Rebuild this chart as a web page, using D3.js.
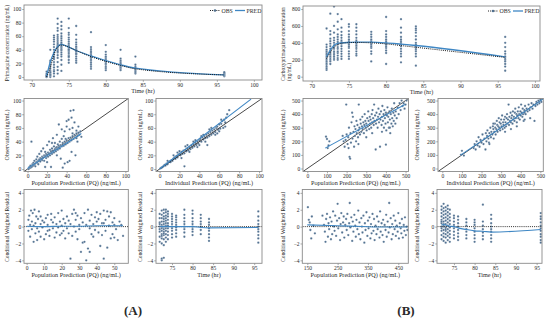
<!DOCTYPE html>
<html><head><meta charset="utf-8">
<script src="https://cdn.jsdelivr.net/npm/d3@7"></script>
<style>
body{margin:0;background:#fff}
svg{display:block}
text{font-family:"Liberation Serif","DejaVu Serif",serif;fill:#2a2a2a}
</style>
</head><body>
<svg id="c" width="550" height="320" font-family="Liberation Serif, serif"></svg>
<script>
// ---------------- DATA ----------------
const sampleTimes = [72, 72.5, 73, 73.5, 74, 75, 76, 78, 80, 82, 84, 96];

// (A) primaquine: observed concentrations per sampling time
const pqObsByTime = [
  [0, 1, 2, 3, 5, 8, 0.5, 1.5],
  [0, 2, 4, 6, 9, 12, 15, 18, 22, 24, 40, 3, 7],
  [1, 5, 10, 14, 18, 22, 26, 30, 33, 36, 40, 44, 48, 52, 55, 58, 61, 8, 28],
  [5, 10, 15, 22, 28, 32, 36, 40, 43, 46, 48, 50, 53, 56, 59, 62, 68, 72, 78, 86, 38, 45],
  [9, 18, 25, 30, 33, 36, 39, 41, 43, 45, 47, 49, 51, 54, 57, 60, 64, 70, 75, 81],
  [21, 25, 29, 32, 35, 37, 39, 41, 43, 45, 47, 49, 52, 55, 58, 62, 65, 72, 86, 30, 40],
  [21, 24, 27, 30, 33, 35, 37, 39, 41, 43, 45, 48, 51, 55, 62, 75, 34, 38],
  [12, 15, 18, 21, 24, 26, 28, 30, 32, 34, 36, 38, 41, 44, 66, 29],
  [10, 13, 15, 18, 20, 22, 24, 26, 28, 30, 33, 37, 47, 23],
  [10, 12, 14, 15, 17, 18, 20, 22, 24, 27, 40],
  [5, 7, 9, 11, 13, 15, 18, 30],
  [1, 2, 3, 4, 5, 6, 7]
];
const pqObsLine = [0, 14, 33, 44, 47, 44, 39, 30, 23, 17, 12, 3];
const pqPredLine = [1, 22, 36, 45, 48, 44, 39, 31, 24, 18, 13, 3];

// (B) carboxyprimaquine: observed concentrations per sampling time
const cpqObsByTime = [
  [80, 100, 120, 140, 160, 180, 200, 220, 240, 260, 280, 300, 320, 350, 380, 570],
  [150, 180, 200, 220, 240, 260, 280, 300, 330, 360, 390, 420, 450, 500, 540, 745],
  [200, 220, 240, 260, 280, 300, 330, 350, 370, 400, 430, 460, 520, 600, 830],
  [200, 220, 250, 280, 300, 330, 350, 380, 410, 440, 470, 500, 560, 650, 740],
  [210, 240, 270, 300, 330, 360, 390, 410, 430, 460, 490, 530, 580, 680],
  [210, 240, 270, 300, 340, 360, 380, 400, 420, 440, 470, 500, 540, 590, 620],
  [250, 270, 300, 330, 350, 370, 390, 410, 430, 460, 500, 540, 580, 620],
  [180, 270, 300, 340, 360, 380, 400, 420, 440, 470, 500, 530],
  [150, 280, 310, 340, 360, 380, 400, 420, 440, 470, 500, 540, 706],
  [170, 240, 270, 300, 330, 360, 380, 400, 420, 440, 470, 520, 580, 680],
  [130, 240, 270, 300, 320, 340, 360, 380, 400, 440, 480, 520, 550, 570, 596],
  [70, 120, 150, 180, 200, 220, 240, 270, 300, 350, 400, 470]
];
const cpqObsLine = [215, 290, 350, 380, 395, 402, 405, 400, 388, 368, 348, 228];
const cpqPredLine = [235, 314, 373, 393, 400, 405, 408, 408, 400, 385, 369, 235];

// (A) observation vs population prediction
const pqPredVsObs = [[1,0],[2,1],[2,3],[3,2],[3,5],[4,3],[4,40],[5,4],[5,7],[6,5],[6,9],[7,6],[7,12],[8,8],[8,4],[9,10],[9,14],[10,9],[10,18],[11,12],[11,7],[12,14],[12,22],[13,11],[13,16],[14,15],[14,26],[15,13],[15,18],[16,17],[16,30],[17,12],[17,20],[18,19],[18,25],[19,16],[19,22],[20,21],[20,35],[21,18],[21,24],[22,23],[22,40],[23,20],[23,28],[24,26],[24,3],[25,22],[25,30],[26,27],[26,45],[27,24],[27,33],[28,29],[28,38],[29,26],[29,31],[30,32],[30,50],[31,28],[31,36],[32,34],[32,65],[33,30],[33,40],[34,35],[34,15],[35,33],[35,44],[36,38],[36,2],[37,34],[37,48],[38,40],[38,55],[39,36],[39,44],[40,42],[40,62],[41,38],[41,10],[42,45],[42,72],[43,40],[43,58],[44,46],[44,85],[45,42],[45,75],[46,48],[46,60],[47,44],[47,86],[48,50],[48,68],[49,46],[49,20],[50,52],[50,56],[51,48],[51,40],[52,53],[52,62],[53,50],[54,55],[55,47],[43,12],[45,25],[38,8],[30,20],[25,38],[20,10],[18,3],[35,58],[40,70],[46,52],[50,45]];
const pqPredFit = [[0,1],[55,52]];

// (A) observation vs individual prediction
const pqIpredVsObs = [[1,1],[2,2],[3,3],[4,4],[5,6],[6,5],[7,8],[8,7],[9,10],[10,11],[11,10],[12,13],[13,12],[14,15],[15,17],[16,15],[17,19],[18,17],[19,21],[20,22],[21,20],[22,25],[23,22],[24,27],[25,23],[25,4],[26,28],[27,26],[28,30],[29,27],[30,32],[31,29],[32,34],[33,31],[34,36],[35,33],[36,38],[37,35],[38,40],[39,37],[40,42],[41,44],[42,40],[43,46],[44,43],[45,48],[46,45],[47,50],[48,46],[48,35],[49,52],[50,48],[51,54],[52,50],[53,56],[54,52],[55,58],[56,54],[57,60],[58,62],[59,57],[60,65],[61,59],[62,66],[63,70],[64,60],[65,72],[66,68],[67,75],[68,80],[70,86],[8,12],[14,20],[20,26],[26,33],[30,25],[36,42],[40,35],[44,50],[52,60],[56,50],[60,55],[46,40],[38,32],[18,24],[22,16],[28,35],[34,40],[42,48],[50,58],[58,52],[62,72],[66,62]];
const pqIpredFit = [[0,0],[92,102]];

// (B) observation vs population prediction
const cpqPredVsObs = [[95,234],[100,217],[104,150],[108,170],[112,200],[180,240],[185,200],[190,160],[195,210],[198,470],[200,250],[205,180],[208,230],[210,150],[212,300],[215,85],[218,72],[220,260],[222,190],[225,340],[228,410],[230,220],[232,380],[235,270],[238,160],[240,310],[242,240],[245,290],[248,200],[250,350],[252,260],[255,320],[258,230],[260,280],[262,470],[265,300],[268,250],[270,360],[272,330],[275,270],[278,310],[280,380],[282,290],[285,340],[288,260],[290,320],[292,400],[295,350],[298,300],[300,330],[302,280],[305,370],[308,310],[310,420],[312,350],[315,290],[318,380],[320,330],[322,360],[325,300],[328,400],[330,340],[332,430],[335,370],[338,320],[340,470],[342,350],[345,390],[348,140],[350,330],[352,410],[355,360],[358,300],[360,380],[362,440],[365,340],[368,400],[370,160],[372,360],[375,420],[378,320],[380,380],[382,460],[385,350],[388,400],[390,300],[392,430],[395,370],[398,330],[400,410],[402,280],[405,390],[408,450],[410,340],[412,380],[415,300],[418,420],[420,360],[422,260],[425,400],[428,330],[430,440],[432,370],[435,310],[438,410],[440,350],[442,480],[445,390],[448,330],[450,420],[455,370],[460,450],[465,400],[470,480],[475,430],[480,500],[485,460],[490,480],[495,440],[500,470],[505,500],[400,175],[380,270],[330,260],[300,230],[260,180],[420,300]];
const cpqPredFit = [[91,150],[497,471]];

// (B) observation vs individual prediction
const cpqIpredVsObs = [[95,100],[100,130],[110,95],[160,150],[165,180],[170,140],[175,200],[180,170],[185,230],[190,160],[195,210],[200,190],[205,250],[210,180],[215,220],[220,140],[222,260],[225,200],[228,240],[230,280],[235,220],[238,190],[240,260],[245,300],[248,230],[250,270],[255,250],[258,310],[260,290],[262,220],[265,270],[268,330],[270,300],[272,250],[275,290],[278,350],[280,320],[282,270],[285,310],[288,370],[290,300],[292,340],[295,280],[298,330],[300,360],[302,310],[305,390],[308,290],[310,340],[312,320],[315,360],[318,300],[320,380],[322,340],[325,310],[328,370],[330,400],[332,330],[335,360],[338,470],[340,320],[342,380],[345,350],[348,410],[350,340],[352,370],[355,390],[358,330],[360,420],[362,360],[365,380],[368,350],[370,410],[372,440],[375,370],[378,400],[380,340],[382,390],[385,420],[388,370],[390,450],[392,400],[395,360],[398,420],[400,390],[402,470],[405,410],[408,380],[410,440],[412,400],[415,350],[418,430],[420,410],[422,460],[425,400],[430,440],[435,420],[440,470],[445,430],[448,370],[450,450],[455,480],[460,440],[465,470],[470,350],[475,460],[480,490],[485,470],[490,500],[495,480],[500,510],[505,490],[320,270],[350,290],[380,310],[420,360],[260,330],[240,180]];
const cpqIpredFit = [[95,100],[515,512]];

// (A) CWRES vs population prediction
const pqPredVsCwres = [[1,0.8],[1,-0.5],[1.5,1.3],[2,0.2],[2,-1.2],[2.5,1.9],[3,-0.3],[3,0.6],[3.5,1.6],[4,-1.8],[4,0.1],[4.5,2.0],[5,-0.8],[5,0.4],[5.5,1.2],[6,-0.2],[6,-1.6],[6.5,0.9],[7,1.8],[7,-0.6],[8,0.3],[8,-1.2],[9,0.7],[9,-0.1],[10,-1.5],[10,0.5],[11,1.0],[11,-0.9],[12,0.2],[12,1.4],[13,-0.4],[13,-1.1],[14,0.8],[14,1.5],[15,-0.2],[15,0.5],[16,-1.3],[16,1.1],[17,0.3],[17,-0.7],[18,1.6],[18,-0.1],[19,0.6],[19,-1.0],[20,1.9],[20,0.1],[21,-0.5],[21,0.9],[22,-1.4],[22,0.4],[23,1.2],[23,-0.2],[24,0.7],[24,-0.8],[25,-3.8],[25,0.3],[26,1.5],[26,-1.1],[27,2.0],[27,0.0],[28,-0.6],[28,0.8],[29,1.3],[29,-1.5],[30,0.2],[30,-0.3],[31,-3.0],[31,1.0],[32,-1.9],[32,0.5],[33,-1.8],[33,1.6],[34,-4.0],[34,0.2],[35,-2.6],[35,2.0],[36,-3.0],[36,0.7],[37,-0.9],[37,1.4],[38,0.3],[38,-1.2],[39,1.1],[39,-0.4],[40,0.6],[40,1.7],[41,-0.7],[41,0.9],[42,-2.3],[42,1.5],[43,0.4],[43,-1.0],[44,1.9],[44,-3.8],[45,0.8],[45,-0.5],[46,1.8],[46,-2.5],[47,1.2],[47,0.1],[48,-1.4],[48,1.7],[49,0.5],[49,-0.9],[50,1.0],[50,0.2],[51,-0.3],[52,-1.6],[53,0.6],[54,0.2],[55,-1.1],[8,1.2],[12,-0.5],[20,-0.8],[28,1.6],[36,-0.2],[44,0.4],[50,-1.3]];
const pqPredCwresFit = [[0,0.05],[10,0],[20,0.05],[30,0.05],[40,0.1],[50,0.1],[55,0.1]];

// (A) CWRES per sampling time
const pqCwresByTime = [
  [-1.8, -1.2, -0.6, 0, 0.5, 1.0, 1.5, 0.3, -0.3],
  [-4.0, -3.8, -2.0, -1.4, -0.9, -0.5, -0.2, 0.2, 0.6, 1.0, 1.4, 1.9, 0.0, -1.1],
  [-3.7, -2.2, -1.5, -1.0, -0.6, -0.3, 0, 0.3, 0.6, 0.9, 1.2, 1.6, 2.0, -0.8],
  [-1.8, -1.3, -0.9, -0.5, -0.2, 0.1, 0.4, 0.7, 1.0, 1.3, 1.7, 2.0, 0.0],
  [-1.5, -1.0, -0.6, -0.2, 0.1, 0.4, 0.8, 1.2, 1.5, 1.8],
  [-1.3, -0.9, -0.5, -0.2, 0, 0.3, 0.6, 0.9, 1.2, 1.5],
  [-1.2, -0.8, -0.4, -0.1, 0.2, 0.5, 0.8, 1.1, 1.3],
  [-1.2, -0.7, -0.3, 0, 0.3, 0.6, 1.0, 1.4, 2.0],
  [-1.0, -0.6, -0.3, 0, 0.3, 0.6, 1.0, 1.5, 1.9],
  [-0.9, -0.4, 0, 0.3, 0.6, 1.0, 1.4],
  [-1.7, -1.3, -0.9, -0.5, -0.2, 0.2, 0.5, 0.9],
  [-1.9, -1.4, -1.0, -0.6, -0.3, 0, 0.3, 0.7, 1.2, 1.8]
];
const pqTimeCwresFit = [0.05, 0, 0, 0.05, 0, 0, 0, 0, 0, -0.1, -0.15, -0.1];

// (B) CWRES vs population prediction
const cpqPredVsCwres = [[152,2.3],[155,0.8],[158,0.5],[160,-0.4],[163,-1.4],[165,1.2],[170,0.1],[175,-0.8],[200,1.3],[205,0.2],[208,-0.6],[210,-1.8],[212,0.9],[215,1.5],[218,-1.2],[220,0.4],[222,-0.3],[225,1.1],[228,-1.5],[230,0.6],[232,-0.9],[235,1.8],[238,0.0],[240,-0.5],[242,1.3],[245,-1.1],[248,0.7],[250,2.7],[252,-0.2],[255,1.0],[258,-1.6],[260,0.3],[262,1.6],[265,-0.7],[268,0.5],[270,1.2],[272,-1.3],[275,0.2],[278,0.9],[280,-0.4],[282,1.5],[285,-1.0],[288,0.4],[290,2.8],[292,-0.1],[295,1.1],[298,-1.7],[300,0.6],[302,-0.6],[305,1.4],[308,0.1],[310,-1.2],[312,0.8],[315,-0.3],[318,1.9],[320,-0.9],[322,0.5],[325,-1.5],[328,1.0],[330,0.0],[332,-0.7],[335,1.3],[338,-1.9],[340,0.4],[342,-0.4],[345,1.7],[348,-1.1],[350,0.7],[352,-0.2],[355,1.1],[358,-1.4],[360,0.3],[362,-0.8],[365,1.5],[368,-0.5],[370,0.9],[372,-1.6],[375,0.1],[378,-0.9],[380,1.2],[382,-0.3],[385,0.6],[388,-1.3],[390,1.8],[392,-0.6],[395,0.4],[398,-1.0],[400,0.8],[402,-1.8],[405,0.2],[408,-0.4],[410,1.4],[412,-1.2],[415,0.6],[418,-0.7],[420,2.8],[422,-0.1],[425,1.0],[428,-1.5],[430,0.3],[432,-0.9],[435,1.3],[438,-0.3],[440,0.7],[442,-1.1],[445,0.1],[448,-0.6],[450,1.6],[452,-1.4],[455,0.4],[458,-0.2],[460,-0.8],[462,0.9],[465,-1.3],[468,0.2],[470,-0.5],[472,1.1],[475,-1.0],[478,0.0],[480,-0.4]];
const cpqPredCwresFit = [[150,0.2],[250,0.1],[330,0.02],[400,-0.05],[480,-0.05]];

// (B) CWRES per sampling time
const cpqCwresByTime = [
  [-1.5, -1.0, -0.5, 0, 0.4, 0.8, 1.2, 1.6, 2.0, 2.4, -0.2, 0.6],
  [-1.7, -1.2, -0.8, -0.4, 0, 0.3, 0.6, 1.0, 1.4, 1.8, 2.2, 2.7, 0.2],
  [-1.9, -1.3, -0.9, -0.5, -0.1, 0.3, 0.7, 1.1, 1.5, 1.9, 2.3, -0.3],
  [-1.6, -1.1, -0.7, -0.3, 0.1, 0.5, 0.9, 1.3, 1.7, 2.1, 2.5],
  [-1.8, -1.3, -0.9, -0.5, -0.1, 0.3, 0.7, 1.1, 1.5, 2.0],
  [-1.4, -1.0, -0.6, -0.2, 0.2, 0.6, 1.0, 1.3],
  [-1.6, -1.2, -0.8, -0.4, 0, 0.4, 0.8, 1.2],
  [-1.4, -1.0, -0.6, -0.3, 0.1, 0.5, 0.9],
  [-1.8, -1.4, -1.0, -0.6, -0.2, 0.2, 0.5, 0.8],
  [-1.5, -1.1, -0.7, -0.3, 0.1, 0.6, 2.6],
  [-1.8, -1.4, -1.0, -0.6, -0.3, 0.0, 0.4, 0.9, 1.4],
  [-1.9, -1.6, -1.2, -0.9, -0.5, -0.2, 0.1, 0.5, 0.9, 1.2, 1.6]
];
const cpqTimeCwresFit = [0.2, 0.25, 0.2, 0.1, 0.05, 0, -0.15, -0.35, -0.5, -0.55, -0.65, -0.35];

const timeTicks = [70, 75, 80, 85, 90, 95, 100];
const timeTicksRes = [75, 80, 85, 90, 95];
const pqConcTicks = [0, 20, 40, 60, 80, 100];
const cpqConcTicks = [0, 200, 400, 600, 800];
const pqPredTicks = [0, 20, 40, 60, 80, 100];
const cpqPredTicks = [0, 100, 200, 300, 400, 500];
const cwresTicks = [-4, -2, 0, 2, 4];
const pqResPredTicks = [0, 10, 20, 30, 40, 50];
const cpqResPredTicks = [150, 250, 350, 450];
const legendLabels = ["OBS", "PRED"];

// ---------------- DRAWING ----------------
const svg = d3.select("#c");
const PT = "#50708f", BLUE = "#3f87c4", FRAME = "#8a8a8a";
const FONT = "Liberation Serif, serif";
let clipId = 0;

const byTime = (times, nested) => times.flatMap((t, i) => nested[i].map(v => [t, v]));
const zip = (a, b) => a.map((v, i) => [v, b[i]]);

function panel(o) {
  const x = d3.scaleLinear().domain(o.xd).range([o.x0, o.x1]);
  const y = d3.scaleLinear().domain(o.yd).range([o.y1, o.y0]);
  const g = svg.append("g");
  const id = "clip" + (clipId++);
  svg.append("clipPath").attr("id", id).append("rect")
    .attr("x", o.x0).attr("y", o.y0).attr("width", o.x1 - o.x0).attr("height", o.y1 - o.y0);

  const ax = g.append("g").attr("transform", `translate(0,${o.y1})`)
    .call(d3.axisBottom(x).tickValues(o.xt).tickSize(1.8).tickPadding(0.8).tickFormat(d3.format("d")));
  const ay = g.append("g").attr("transform", `translate(${o.x0},0)`)
    .call(d3.axisLeft(y).tickValues(o.yt).tickSize(1.8).tickPadding(1).tickFormat(d3.format("d")));
  [ax, ay].forEach(a => {
    a.attr("font-family", FONT).attr("font-size", null);
    a.select(".domain").remove();
    a.selectAll("line").attr("stroke", "#555").attr("stroke-width", 0.5);
    a.selectAll("text").style("font-size", "5.5px").style("font-family", FONT).attr("fill", "#333");
  });
  ay.selectAll("text").text(d => d < 0 ? "\u2212" + Math.abs(d) : d);

  const pg = g.append("g").attr("clip-path", `url(#${id})`);
  (o.draw || (() => {}))(pg, x, y);

  g.append("rect").attr("x", o.x0).attr("y", o.y0).attr("width", o.x1 - o.x0).attr("height", o.y1 - o.y0)
    .attr("fill", "none").attr("stroke", FRAME).attr("stroke-width", 0.9);

  if (o.xlabel) g.append("text").attr("x", (o.x0 + o.x1) / 2).attr("y", o.y1 + 13.2)
    .attr("text-anchor", "middle").style("font-size", o.xls || "6.2px").style("font-family", FONT).text(o.xlabel);
  if (o.ylabel) {
    const lines = [].concat(o.ylabel);
    lines.forEach((ln, i) => {
      const lx = o.ylx + i * 6.2;
      g.append("text").attr("transform", `translate(${lx},${o.yly}) rotate(-90)`)
        .attr("text-anchor", o.ylanchor || "middle").style("font-size", o.yls || "6px")
        .style("font-family", FONT).text(ln);
    });
  }
  return { x, y, g };
}

function dots(g, pts, x, y) {
  g.append("g").selectAll("circle").data(pts).join("circle")
    .attr("cx", d => x(d[0])).attr("cy", d => y(d[1])).attr("r", 1.15)
    .attr("fill", PT).attr("stroke", "#e2e8ef").attr("stroke-width", 0.25);
}
function line(g, pts, x, y, color, width, dash, curve) {
  g.append("path").datum(pts)
    .attr("d", d3.line().x(d => x(d[0])).y(d => y(d[1])).curve(curve || d3.curveLinear))
    .attr("fill", "none").attr("stroke", color).attr("stroke-width", width)
    .attr("stroke-dasharray", dash || null);
}
function legend(lx, ly) {
  const g = svg.append("g");
  g.append("line").attr("x1", lx).attr("x2", lx + 10).attr("y1", ly).attr("y2", ly)
    .attr("stroke", "#222").attr("stroke-width", 1).attr("stroke-dasharray", "1,1.1");
  g.append("circle").attr("cx", lx + 5).attr("cy", ly).attr("r", 1.3).attr("fill", PT);
  g.append("text").attr("x", lx + 11.5).attr("y", ly + 2).style("font-size", "5.8px").style("font-family", FONT).text(legendLabels[0]);
  g.append("line").attr("x1", lx + 25).attr("x2", lx + 35).attr("y1", ly).attr("y2", ly)
    .attr("stroke", BLUE).attr("stroke-width", 1.3);
  g.append("text").attr("x", lx + 36.5).attr("y", ly + 2).style("font-size", "5.8px").style("font-family", FONT).text(legendLabels[1]);
}

// ---- top row: concentration vs time ----
panel({
  x0: 24, x1: 262, y0: 5, y1: 80, xd: [68.95, 101.1], yd: [-4.4, 105.9],
  xt: timeTicks, yt: pqConcTicks, xlabel: "Time (hr)",
  ylabel: "Primaquine concentration (ng/mL)", ylx: 9, yly: 43, yls: "5.5px",
  draw: (g, x, y) => {
    dots(g, byTime(sampleTimes, pqObsByTime), x, y);
    line(g, zip(sampleTimes, pqPredLine), x, y, BLUE, 1.3, null, d3.curveMonotoneX);
    line(g, zip(sampleTimes, pqObsLine), x, y, "#1a1a1a", 1.0, "1,1.1", d3.curveMonotoneX);
  }
});
legend(210, 10.5);

panel({
  x0: 303, x1: 540, y0: 6, y1: 81, xd: [68.83, 100.68], yd: [-51, 836],
  xt: timeTicks, yt: cpqConcTicks, xlabel: "Time (hr)",
  ylabel: ["Carboxyprimaquine concentration", "(ng/mL)"], ylx: 285, yly: 81, ylanchor: "start", yls: "5.4px",
  draw: (g, x, y) => {
    dots(g, byTime(sampleTimes, cpqObsByTime), x, y);
    line(g, zip(sampleTimes, cpqPredLine), x, y, BLUE, 1.3, null, d3.curveMonotoneX);
    line(g, zip(sampleTimes, cpqObsLine), x, y, "#1a1a1a", 1.0, "1,1.1", d3.curveMonotoneX);
  }
});
legend(488, 11);

// ---- middle row: observation vs predictions ----
const diag = (g, x, y, lo, hi) => line(g, [[lo, lo], [hi, hi]], x, y, "#1a1a1a", 0.8);
const mA = { y0: 98.5, y1: 171.5, xd: [-3.6, 103], yd: [-3.6, 103], xt: pqPredTicks, yt: pqPredTicks, ylabel: "Observation (ng/mL)", yly: 135 };
panel(Object.assign({}, mA, {
  x0: 24, x1: 128.3, xlabel: "Population Prediction (PQ) (ng/mL)", ylx: 9,
  draw: (g, x, y) => { diag(g, x, y, -10, 110); dots(g, pqPredVsObs, x, y); line(g, pqPredFit, x, y, BLUE, 1.1); }
}));
panel(Object.assign({}, mA, {
  x0: 156, x1: 262, xlabel: "Individual Prediction (PQ) (ng/mL)", ylx: 142,
  draw: (g, x, y) => { dots(g, pqIpredVsObs, x, y); diag(g, x, y, -10, 110); line(g, pqIpredFit, x, y, BLUE, 1.1); }
}));
const mB = { y0: 98.5, y1: 171.5, xd: [-22, 515], yd: [-22, 515], xt: cpqPredTicks, yt: cpqPredTicks, ylabel: "Observation (ng/mL)", yly: 135 };
panel(Object.assign({}, mB, {
  x0: 303, x1: 408.5, xlabel: "Population Prediction (PQ) (ng/mL)", ylx: 285,
  draw: (g, x, y) => { diag(g, x, y, -50, 550); dots(g, cpqPredVsObs, x, y); line(g, cpqPredFit, x, y, BLUE, 1.1); }
}));
panel(Object.assign({}, mB, {
  x0: 438, x1: 543.3, xlabel: "Individual Prediction (PQ) (ng/mL)", ylx: 419,
  draw: (g, x, y) => { diag(g, x, y, -50, 550); dots(g, cpqIpredVsObs, x, y); line(g, cpqIpredFit, x, y, BLUE, 1.1); }
}));

// ---- bottom row: CWRES ----
const zeroLine = (g, x, y, lo, hi) => line(g, [[lo, 0], [hi, 0]], x, y, "#1a1a1a", 0.9, "1,1.1");
const bR = { y0: 189.5, y1: 263.3, yd: [-4.35, 4.4], yt: cwresTicks, ylabel: "Conditional Weighted Residual", yly: 227, yls: "5.6px" };
panel(Object.assign({}, bR, {
  x0: 24, x1: 128.3, xd: [-1.5, 58], xt: pqResPredTicks, xlabel: "Population Prediction (PQ) (ng/mL)", ylx: 9,
  draw: (g, x, y) => { dots(g, pqPredVsCwres, x, y); zeroLine(g, x, y, -5, 60); line(g, pqPredCwresFit, x, y, BLUE, 1.1, null, d3.curveMonotoneX); }
}));
panel(Object.assign({}, bR, {
  x0: 156, x1: 262, xd: [71.1, 96.9], xt: timeTicksRes, xlabel: "Time (hr)", ylx: 142,
  draw: (g, x, y) => { dots(g, byTime(sampleTimes, pqCwresByTime), x, y); zeroLine(g, x, y, 70, 98); line(g, zip(sampleTimes, pqTimeCwresFit), x, y, BLUE, 1.1, null, d3.curveMonotoneX); }
}));
panel(Object.assign({}, bR, {
  x0: 302.3, x1: 408.3, xd: [133.5, 483], xt: cpqResPredTicks, xlabel: "Population Prediction (PQ) (ng/mL)", ylx: 285,
  draw: (g, x, y) => { dots(g, cpqPredVsCwres, x, y); zeroLine(g, x, y, 100, 500); line(g, cpqPredCwresFit, x, y, BLUE, 1.1, null, d3.curveMonotoneX); }
}));
panel(Object.assign({}, bR, {
  x0: 437, x1: 542, xd: [70.9, 96.3], xt: timeTicksRes, xlabel: "Time (hr)", ylx: 419,
  draw: (g, x, y) => { dots(g, byTime(sampleTimes, cpqCwresByTime), x, y); zeroLine(g, x, y, 70, 98); line(g, zip(sampleTimes, cpqTimeCwresFit), x, y, BLUE, 1.1, null, d3.curveMonotoneX); }
}));

// ---- panel letters ----
svg.append("text").attr("x", 133).attr("y", 315).attr("text-anchor", "middle")
  .style("font-size", "13px").style("font-weight", "bold").style("font-family", FONT).text("(A)");
svg.append("text").attr("x", 406).attr("y", 315).attr("text-anchor", "middle")
  .style("font-size", "13px").style("font-weight", "bold").style("font-family", FONT).text("(B)");
</script>
</body></html>
